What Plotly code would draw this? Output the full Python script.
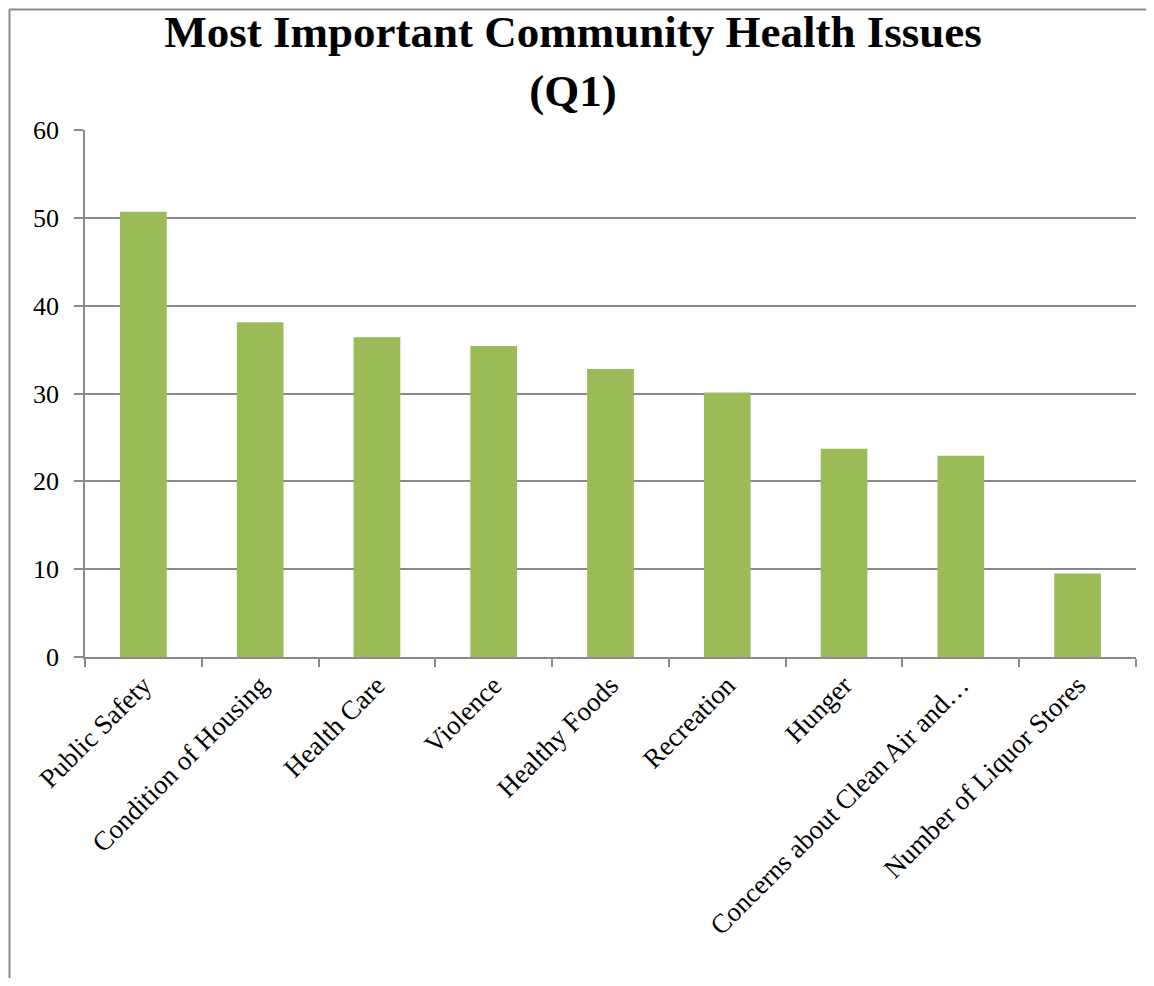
import plotly.graph_objects as go

categories = ["Public Safety", "Condition of Housing", "Health Care", "Violence",
              "Healthy Foods", "Recreation", "Hunger",
              "Concerns about Clean Air and…", "Number of Liquor Stores"]
values = [50.7, 38.1, 36.4, 35.4, 32.8, 30.1, 23.7, 22.9, 9.5]
y_ticks = [0, 10, 20, 30, 40, 50, 60]

# the page body adds an 8px offset, so the figure is sized to the visible area
W, H = 1138, 970
L, R, T, B = 77, 10, 122, 321
pw, ph = W - L - R, H - T - B

FONT = "Liberation Serif"
GRID = "#8a8a8a"

fig = go.Figure(go.Bar(x=categories, y=values, marker_color="#9BBB59",
                       marker_line_width=0, width=0.4))

fig.update_layout(
    width=W, height=H,
    margin=dict(l=L, r=R, t=T, b=B),
    paper_bgcolor="white", plot_bgcolor="white",
    showlegend=False,
    title=dict(text="<b>Most Important Community Health Issues<br>(Q1)</b>",
               x=(565 - L) / pw, xref="paper", xanchor="center",
               yref="container", y=1 - 39 / H, yanchor="top",
               font=dict(family=FONT, size=45, color="black")),
    font=dict(family=FONT, size=27, color="black"),
    xaxis=dict(showline=True, linecolor=GRID, linewidth=1.5,
               ticks="outside", tickson="boundaries", ticklen=8,
               tickcolor=GRID, tickwidth=1.5, tickangle=-45,
               tickfont=dict(family=FONT, size=27, color="black"),
               showgrid=False),
    yaxis=dict(range=[0, 60], tickvals=y_ticks, showline=True, linecolor=GRID,
               linewidth=1.5, ticks="outside", ticklen=9, tickcolor=GRID,
               tickwidth=1.5, showgrid=True, gridcolor=GRID, gridwidth=1.5,
               zeroline=False, ticklabelstandoff=10,
               tickfont=dict(family=FONT, size=26, color="black")),
)

# outer chart frame: left and top edges
frame_top = (H - B - 1.5) / ph
frame_left = (1.5 - L) / pw
fig.add_shape(type="line", xref="paper", yref="paper",
              x0=frame_left, x1=(W - L) / pw, y0=frame_top, y1=frame_top,
              line=dict(color="#8a8a8a", width=2), layer="below")
fig.add_shape(type="line", xref="paper", yref="paper",
              x0=frame_left, x1=frame_left, y0=(H - B - H) / ph, y1=frame_top,
              line=dict(color="#8a8a8a", width=2), layer="below")

fig.write_html("out.html")
